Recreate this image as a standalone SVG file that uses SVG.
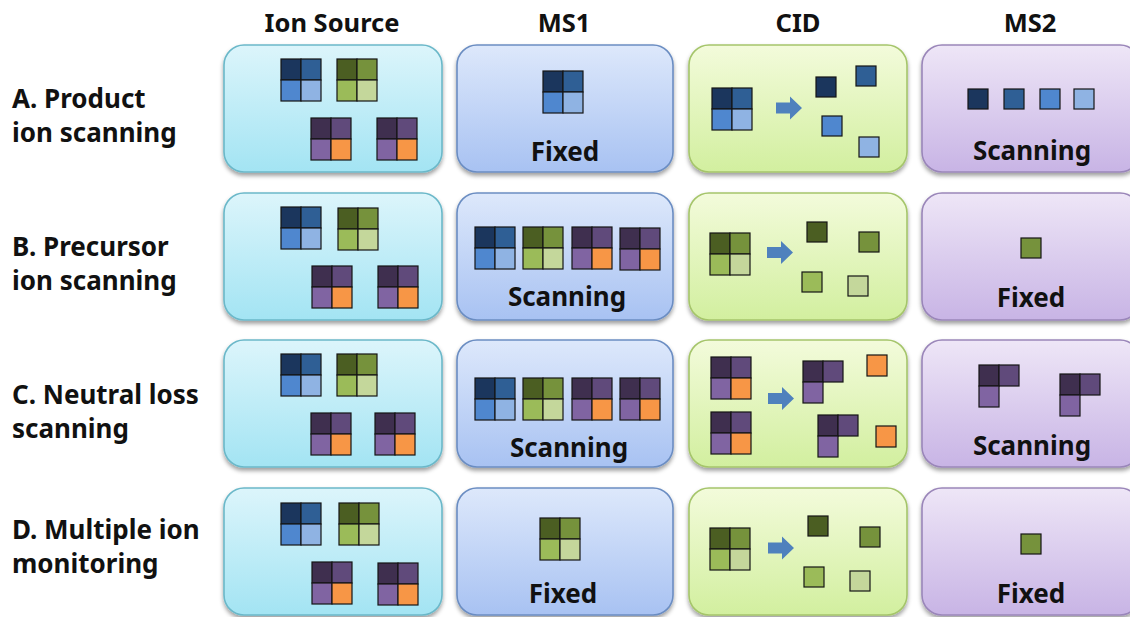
<svg xmlns="http://www.w3.org/2000/svg" xmlns:xlink="http://www.w3.org/1999/xlink" width="1130" height="617" viewBox="0 0 1130 617">
<style>
text{font-family:"Noto Sans","Liberation Sans",sans-serif;font-weight:700;fill:#111}
.hdr{font-size:25.5px;text-anchor:middle}
.row{font-size:26px}
.lbl{font-size:26px;text-anchor:middle}
.box{stroke-width:1.6}
.c{stroke:#151515;stroke-width:1.2}
.arrow{fill:#4f81bd}
</style>
<defs>
<linearGradient id="gIon" x1="0" y1="0" x2="0" y2="1"><stop offset="0" stop-color="#dcf5fb"/><stop offset="1" stop-color="#a3e4f3"/></linearGradient>
<linearGradient id="gMs1" x1="0" y1="0" x2="0" y2="1"><stop offset="0" stop-color="#dde8fb"/><stop offset="1" stop-color="#a8c2f2"/></linearGradient>
<linearGradient id="gCid" x1="0" y1="0" x2="0" y2="1"><stop offset="0" stop-color="#f3fbdb"/><stop offset="1" stop-color="#d2ef9f"/></linearGradient>
<linearGradient id="gMs2" x1="0" y1="0" x2="0" y2="1"><stop offset="0" stop-color="#eee6f7"/><stop offset="1" stop-color="#c8b4e5"/></linearGradient>
<filter id="sh" x="-10%" y="-10%" width="120%" height="125%"><feDropShadow dx="0" dy="3" stdDeviation="2.2" flood-color="#000" flood-opacity="0.38"/></filter>
<g id="qb"><rect class="c" x="0" y="0" width="20" height="21" fill="#1b365d"/><rect class="c" x="20" y="0" width="20" height="21" fill="#2f5f95"/><rect class="c" x="0" y="21" width="20" height="21" fill="#4f87cf"/><rect class="c" x="20" y="21" width="20" height="21" fill="#8fb3e3"/></g>
<g id="qg"><rect class="c" x="0" y="0" width="20" height="21" fill="#4b5e22"/><rect class="c" x="20" y="0" width="20" height="21" fill="#76923c"/><rect class="c" x="0" y="21" width="20" height="21" fill="#9bbb59"/><rect class="c" x="20" y="21" width="20" height="21" fill="#c4d79b"/></g>
<g id="qp"><rect class="c" x="0" y="0" width="20" height="21" fill="#3f2f4f"/><rect class="c" x="20" y="0" width="20" height="21" fill="#604a7b"/><rect class="c" x="0" y="21" width="20" height="21" fill="#8064a2"/><rect class="c" x="20" y="21" width="20" height="21" fill="#f79646"/></g>
<g id="lp"><rect class="c" x="0" y="0" width="20" height="21" fill="#3f2f4f"/><rect class="c" x="20" y="0" width="20" height="21" fill="#604a7b"/><rect class="c" x="0" y="21" width="20" height="21" fill="#8064a2"/></g>
<path id="arr" class="arrow" d="M0,-5.5 H14 V-11.5 L26,0 L14,11.5 V5.5 H0 Z"/>
<rect id="bIon" class="box" x="0" y="0" width="218" height="127" rx="20" fill="url(#gIon)" stroke="#6bb8c9" filter="url(#sh)"/>
<rect id="bMs1" class="box" x="0" y="0" width="216" height="127" rx="20" fill="url(#gMs1)" stroke="#6b8dc2" filter="url(#sh)"/>
<rect id="bCid" class="box" x="0" y="0" width="218" height="127" rx="20" fill="url(#gCid)" stroke="#a5c56b" filter="url(#sh)"/>
<rect id="bMs2" class="box" x="0" y="0" width="218" height="127" rx="20" fill="url(#gMs2)" stroke="#9a86b9" filter="url(#sh)"/>
</defs>

<g id="headers">
<text class="hdr" x="332" y="32">Ion Source</text>
<text class="hdr" x="564" y="32">MS1</text>
<text class="hdr" x="798" y="32">CID</text>
<text class="hdr" x="1030" y="32">MS2</text>
</g>

<g id="row-labels">
<text class="row" x="12" y="108">A. Product</text>
<text class="row" x="12" y="142">ion scanning</text>
<text class="row" x="12" y="256">B. Precursor</text>
<text class="row" x="12" y="290">ion scanning</text>
<text class="row" x="12" y="404">C. Neutral loss</text>
<text class="row" x="12" y="438">scanning</text>
<text class="row" x="12" y="539">D. Multiple ion</text>
<text class="row" x="12" y="573">monitoring</text>
</g>

<!-- Row A -->
<g id="A-ion-source" transform="translate(224,45)">
<use href="#bIon"/>
<use href="#qb" x="57" y="14"/><use href="#qg" x="113" y="14"/>
<use href="#qp" x="87" y="73"/><use href="#qp" x="153" y="73"/>
</g>
<g id="A-ms1" transform="translate(457,45)">
<use href="#bMs1"/>
<use href="#qb" x="86" y="26"/>
<text class="lbl" x="108" y="116">Fixed</text>
</g>
<g id="A-cid" transform="translate(689,45)">
<use href="#bCid"/>
<use href="#qb" x="23" y="43"/>
<rect class="c" x="127" y="32" width="20" height="20" fill="#1b365d"/>
<rect class="c" x="167" y="21" width="20" height="20" fill="#2f5f95"/>
<rect class="c" x="133" y="71" width="20" height="20" fill="#4f87cf"/>
<rect class="c" x="170" y="92" width="20" height="20" fill="#8fb3e3"/>
</g>
<g id="A-ms2" transform="translate(922,45)">
<use href="#bMs2"/>
<rect class="c" x="46" y="44" width="20" height="20" fill="#1b365d"/>
<rect class="c" x="82" y="44" width="20" height="20" fill="#2f5f95"/>
<rect class="c" x="118" y="44" width="20" height="20" fill="#4f87cf"/>
<rect class="c" x="152" y="44" width="20" height="20" fill="#8fb3e3"/>
<text class="lbl" x="110" y="115">Scanning</text>
</g>

<!-- Row B -->
<g id="B-ion-source" transform="translate(224,193)">
<use href="#bIon"/>
<use href="#qb" x="57" y="14"/><use href="#qg" x="114" y="15"/>
<use href="#qp" x="88" y="73"/><use href="#qp" x="154" y="73"/>
</g>
<g id="B-ms1" transform="translate(457,193)">
<use href="#bMs1"/>
<use href="#qb" x="18" y="34"/><use href="#qg" x="66" y="34"/><use href="#qp" x="115" y="34"/><use href="#qp" x="163" y="35"/>
<text class="lbl" x="110" y="113">Scanning</text>
</g>
<g id="B-cid" transform="translate(689,193)">
<use href="#bCid"/>
<use href="#qg" x="21" y="40"/>
<rect class="c" x="118" y="29" width="20" height="20" fill="#4b5e22"/>
<rect class="c" x="170" y="39" width="20" height="20" fill="#76923c"/>
<rect class="c" x="113" y="79" width="20" height="20" fill="#9bbb59"/>
<rect class="c" x="159" y="83" width="20" height="20" fill="#c4d79b"/>
</g>
<g id="B-ms2" transform="translate(922,193)">
<use href="#bMs2"/>
<rect class="c" x="99" y="45" width="20" height="20" fill="#76923c"/>
<text class="lbl" x="109" y="114">Fixed</text>
</g>

<!-- Row C -->
<g id="C-ion-source" transform="translate(224,340)">
<use href="#bIon"/>
<use href="#qb" x="57" y="14"/><use href="#qg" x="113" y="14"/>
<use href="#qp" x="87" y="73"/><use href="#qp" x="151" y="73"/>
</g>
<g id="C-ms1" transform="translate(457,340)">
<use href="#bMs1"/>
<use href="#qb" x="18" y="38"/><use href="#qg" x="66" y="38"/><use href="#qp" x="115" y="38"/><use href="#qp" x="163" y="38"/>
<text class="lbl" x="112" y="117">Scanning</text>
</g>
<g id="C-cid" transform="translate(689,340)">
<use href="#bCid"/>
<use href="#qp" x="22" y="17"/><use href="#qp" x="22" y="72"/>
<use href="#lp" x="114" y="21"/>
<rect class="c" x="178" y="15" width="20" height="21" fill="#f79646"/>
<use href="#lp" x="129" y="75"/>
<rect class="c" x="187" y="86" width="20" height="21" fill="#f79646"/>
</g>
<g id="C-ms2" transform="translate(922,340)">
<use href="#bMs2"/>
<use href="#lp" x="57" y="25"/><use href="#lp" x="138" y="34"/>
<text class="lbl" x="110" y="115">Scanning</text>
</g>

<!-- Row D -->
<g id="D-ion-source" transform="translate(224,488)">
<use href="#bIon"/>
<use href="#qb" x="57" y="15"/><use href="#qg" x="115" y="15"/>
<use href="#qp" x="88" y="74"/><use href="#qp" x="154" y="75"/>
</g>
<g id="D-ms1" transform="translate(457,488)">
<use href="#bMs1"/>
<use href="#qg" x="83" y="30"/>
<text class="lbl" x="106" y="115">Fixed</text>
</g>
<g id="D-cid" transform="translate(689,488)">
<use href="#bCid"/>
<use href="#qg" x="21" y="40"/>
<rect class="c" x="119" y="28" width="20" height="20" fill="#4b5e22"/>
<rect class="c" x="171" y="39" width="20" height="20" fill="#76923c"/>
<rect class="c" x="115" y="79" width="20" height="20" fill="#9bbb59"/>
<rect class="c" x="161" y="83" width="20" height="20" fill="#c4d79b"/>
</g>
<g id="D-ms2" transform="translate(922,488)">
<use href="#bMs2"/>
<rect class="c" x="99" y="46" width="20" height="20" fill="#76923c"/>
<text class="lbl" x="109" y="115">Fixed</text>
</g>

<g id="connectors">
<use href="#arr" x="776" y="108"/>
<use href="#arr" x="767" y="252.5"/>
<use href="#arr" x="768" y="398.5"/>
<use href="#arr" x="768" y="548"/>
</g>
</svg>
